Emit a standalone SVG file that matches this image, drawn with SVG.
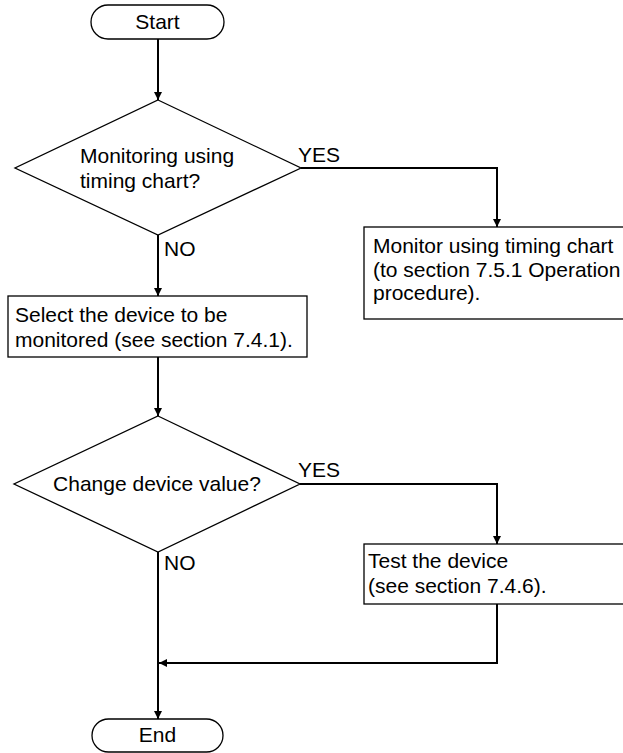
<svg xmlns="http://www.w3.org/2000/svg" width="623" height="753" viewBox="0 0 623 753">
<style>
.s{fill:#fff;stroke:#000;stroke-width:1.3}
.c{fill:none;stroke:#000;stroke-width:2}
text{font-family:"Liberation Sans",Arial,sans-serif;font-size:21px;fill:#000}
.m{text-anchor:middle}
</style>
<defs>
<marker id="ah" viewBox="0 0 10 10" refX="10" refY="5" markerWidth="8" markerHeight="8" markerUnits="userSpaceOnUse" orient="auto">
<path d="M0,0 L10,5 L0,10 Z" fill="#000"/>
</marker>
</defs>
<g id="connectors">
<line class="c" x1="158" y1="39" x2="158" y2="100" marker-end="url(#ah)"/>
<line class="c" x1="158" y1="235" x2="158" y2="296" marker-end="url(#ah)"/>
<polyline class="c" points="301,168 497,168 497,227" marker-end="url(#ah)"/>
<line class="c" x1="158" y1="357" x2="158" y2="416" marker-end="url(#ah)"/>
<polyline class="c" points="300,484 497,484 497,544" marker-end="url(#ah)"/>
<line class="c" x1="158" y1="552" x2="158" y2="719" marker-end="url(#ah)"/>
<polyline class="c" points="497,604 497,663 159,663" marker-end="url(#ah)"/>
<text x="298" y="162">YES</text>
<text x="164" y="256">NO</text>
<text x="298" y="477">YES</text>
<text x="164" y="570">NO</text>
</g>
<g id="start">
<rect class="s" x="91" y="5" width="133" height="34" rx="17"/>
<text class="m" x="157.5" y="29">Start</text>
</g>
<g id="decision1">
<polygon class="s" points="158,100 301,168 158,235 15,168"/>
<text x="80" y="163">Monitoring using</text>
<text x="80" y="188">timing chart?</text>
</g>
<g id="monitor">
<rect class="s" x="364" y="227" width="270" height="92"/>
<text x="373" y="253">Monitor using timing chart</text>
<text x="373" y="277">(to section 7.5.1 Operation</text>
<text x="373" y="300">procedure).</text>
</g>
<g id="select">
<rect class="s" x="8" y="296" width="299" height="61"/>
<text x="15" y="322">Select the device to be</text>
<text x="15" y="347">monitored (see section 7.4.1).</text>
</g>
<g id="decision2">
<polygon class="s" points="158,416 300,484 158,552 14,484"/>
<text class="m" x="157" y="491">Change device value?</text>
</g>
<g id="test">
<rect class="s" x="364" y="544" width="270" height="60"/>
<text x="368" y="568">Test the device</text>
<text x="368" y="593">(see section 7.4.6).</text>
</g>
<g id="end">
<rect class="s" x="92" y="719" width="131" height="33" rx="16.5"/>
<text class="m" x="157.5" y="742">End</text>
</g>
</svg>
